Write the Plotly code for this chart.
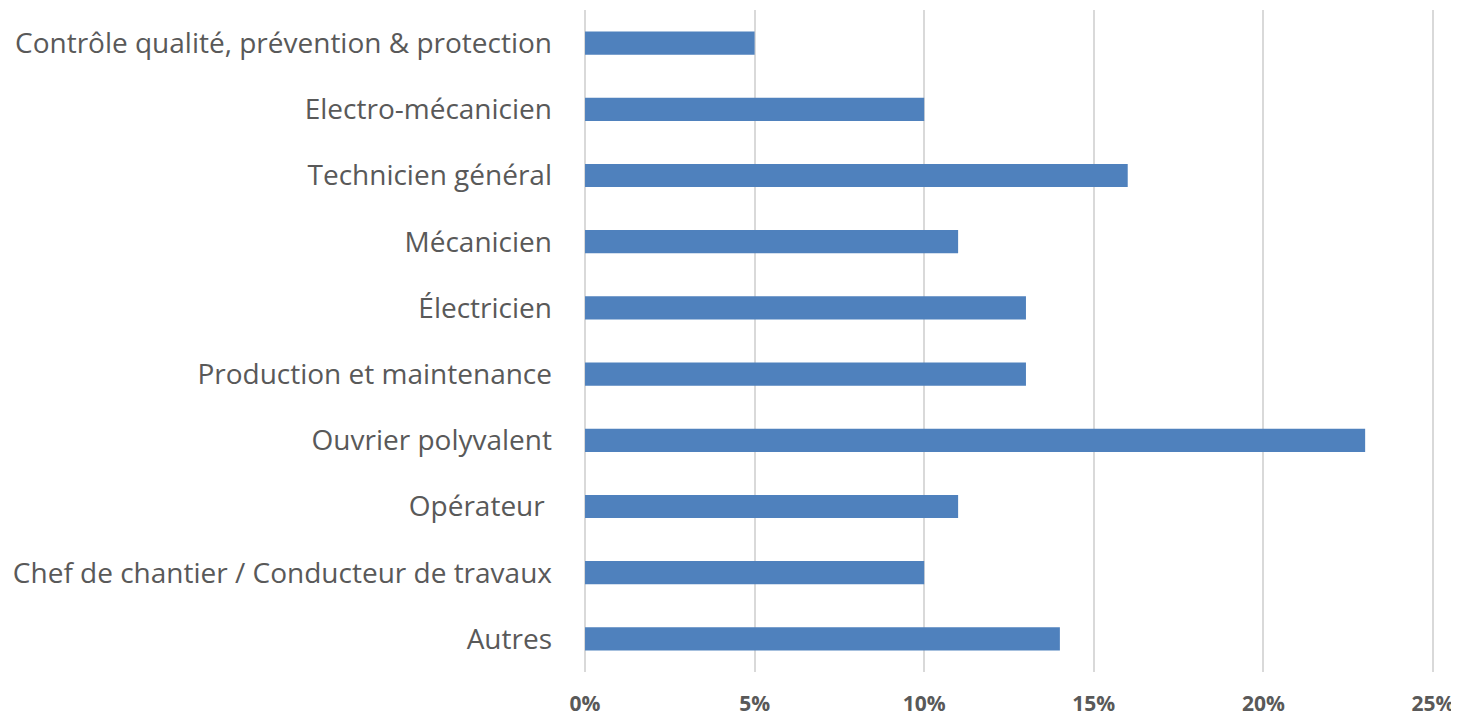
import plotly.graph_objects as go

categories = [
    "Autres",
    "Chef de chantier / Conducteur de travaux",
    "Opérateur\u00a0",
    "Ouvrier polyvalent",
    "Production et maintenance",
    "Électricien",
    "Mécanicien",
    "Technicien général",
    "Electro-mécanicien",
    "Contrôle qualité, prévention & protection",
]
values = [0.14, 0.10, 0.11, 0.23, 0.13, 0.13, 0.11, 0.16, 0.10, 0.05]
tick_vals = [0, 0.05, 0.10, 0.15, 0.20, 0.25]
tick_text = ["0%", "5%", "10%", "15%", "20%", "25%"]

fig = go.Figure(
    go.Bar(
        x=values,
        y=categories,
        orientation="h",
        width=0.35,
        marker=dict(color="#4f81bd", line=dict(width=0)),
        hoverinfo="x+y",
    )
)

fig.update_layout(
    width=1451,
    height=707,
    margin=dict(l=576, r=25, t=2, b=43, autoexpand=False),
    paper_bgcolor="white",
    plot_bgcolor="white",
    showlegend=False,
    font=dict(family="Open Sans", color="#595959"),
)

fig.update_xaxes(
    range=[-0.0003, 0.2503],
    tickvals=tick_vals,
    ticktext=tick_text,
    tickfont=dict(family="Open Sans", size=21, color="#595959", weight="bold"),
    showgrid=True,
    gridcolor="#d9d9d9",
    gridwidth=1.5,
    zeroline=False,
    showline=False,
    ticks="",
    ticklabelstandoff=17,
    automargin=False,
)

fig.update_yaxes(
    categoryorder="array",
    categoryarray=categories,
    range=[-0.5, 9.5],
    tickfont=dict(family="Open Sans", size=28, color="#595959"),
    showgrid=False,
    zeroline=False,
    showline=False,
    ticks="",
    ticklabelstandoff=31,
    automargin=False,
)

fig.write_html("out.html")
